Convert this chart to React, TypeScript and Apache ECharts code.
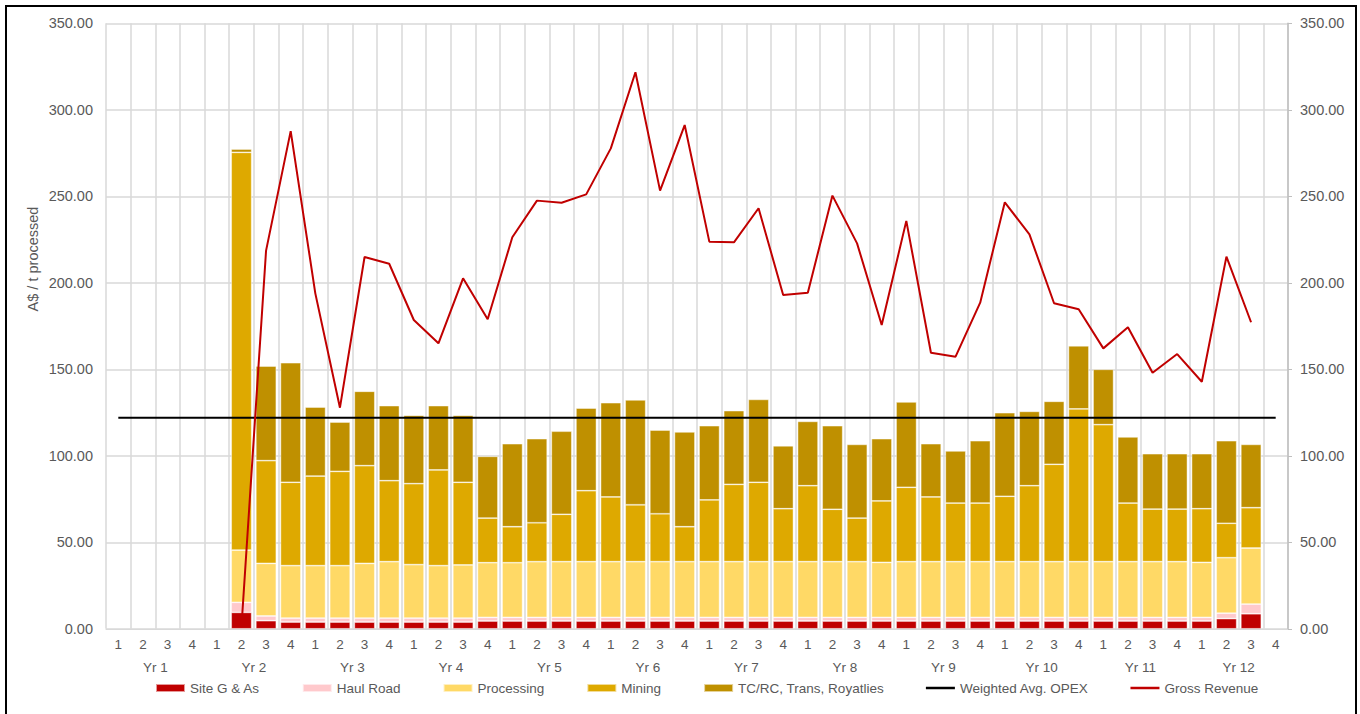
import React, { useEffect, useRef } from "react";
import * as echarts from "echarts";

const quarterLabels = [
  "1", "2", "3", "4", "1", "2", "3", "4", "1", "2", "3", "4",
  "1", "2", "3", "4", "1", "2", "3", "4", "1", "2", "3", "4",
  "1", "2", "3", "4", "1", "2", "3", "4", "1", "2", "3", "4",
  "1", "2", "3", "4", "1", "2", "3", "4", "1", "2", "3", "4",
];
const yearLabels = ["Yr 1", "Yr 2", "Yr 3", "Yr 4", "Yr 5", "Yr 6", "Yr 7", "Yr 8", "Yr 9", "Yr 10", "Yr 11", "Yr 12"];

const N = null;
const siteGA = [
  N, N, N, N, N, 9.5, 4.7, 3.9, 3.9, 3.9, 3.9, 3.9,
  3.9, 3.9, 3.9, 4.5, 4.5, 4.5, 4.5, 4.5, 4.5, 4.5, 4.5, 4.5,
  4.5, 4.5, 4.5, 4.5, 4.5, 4.5, 4.5, 4.5, 4.5, 4.5, 4.5, 4.5,
  4.5, 4.5, 4.5, 4.5, 4.5, 4.5, 4.5, 4.5, 4.5, 5.9, 8.7, N,
];
const haulRoad = [
  N, N, N, N, N, 5.8, 2.7, 2.3, 2.3, 2.3, 2.3, 2.3,
  2.3, 2.3, 2.3, 2.1, 2.1, 2.1, 2.1, 2.1, 2.1, 2.1, 2.1, 2.1,
  2.1, 2.1, 2.1, 2.1, 2.1, 2.1, 2.1, 2.1, 2.1, 2.1, 2.1, 2.1,
  2.1, 2.1, 2.1, 2.1, 2.1, 2.1, 2.1, 2.1, 2.1, 3.1, 5.6, N,
];
const processing = [
  N, N, N, N, N, 30.2, 30.4, 30.3, 30.3, 30.3, 31.6, 32.6,
  30.9, 30.3, 30.7, 31.6, 31.6, 32.2, 32.2, 32.2, 32.2, 32.2, 32.2, 32.2,
  32.2, 32.2, 32.2, 32.2, 32.2, 32.2, 32.2, 31.8, 32.2, 32.2, 32.2, 32.2,
  32.2, 32.2, 32.2, 32.2, 32.2, 32.2, 32.2, 32.2, 31.8, 32.1, 32.4, N,
];
const mining = [
  N, N, N, N, N, 229.9, 59.4, 48.2, 51.8, 54.5, 56.5, 46.8,
  46.8, 55.3, 47.8, 25.8, 20.8, 22.5, 27.4, 41.0, 37.4, 32.9, 27.7, 20.2,
  35.7, 44.7, 45.9, 30.6, 43.9, 30.3, 25.2, 35.5, 43.0, 37.4, 33.9, 33.9,
  37.8, 43.9, 56.3, 88.3, 79.2, 33.9, 30.4, 30.4, 31.0, 19.9, 23.3, N,
];
const tcrcTransRoyalties = [
  N, N, N, N, N, 1.9, 54.7, 69.1, 39.9, 28.5, 43.0, 43.4,
  39.5, 37.2, 38.7, 35.7, 48.0, 48.6, 48.0, 47.8, 54.5, 60.6, 48.4, 54.8,
  42.9, 42.6, 47.9, 36.4, 37.2, 48.3, 42.6, 36.0, 49.3, 30.8, 30.1, 36.0,
  48.3, 43.0, 36.4, 36.5, 32.0, 38.2, 32.0, 32.0, 31.8, 47.7, 36.6, N,
];
const weightedAvgOpex = [
  122, 122, 122, 122, 122, 122, 122, 122, 122, 122, 122, 122,
  122, 122, 122, 122, 122, 122, 122, 122, 122, 122, 122, 122,
  122, 122, 122, 122, 122, 122, 122, 122, 122, 122, 122, 122,
  122, 122, 122, 122, 122, 122, 122, 122, 122, 122, 122, 122,
];
const grossRevenue = [
  N, N, N, N, N, 1, 218.6, 287.7, 193.9, 127.8, 214.9, 211.0,
  178.5, 165.0, 202.6, 178.9, 226.3, 247.5, 246.3, 251.1, 277.7, 321.7, 253.3, 291.2,
  223.8, 223.4, 243.1, 192.9, 194.3, 250.4, 222.8, 175.6, 235.8, 159.6, 157.3, 188.5,
  246.5, 228.0, 188.2, 184.7, 162.1, 174.3, 148.0, 158.8, 142.8, 215.1, 177.2, N,
];

const FONT = "'Liberation Sans', Arial, sans-serif";
const GREY = "#595959";
const LINE_ICON = "path://M0,0L29,0L29,2.5L0,2.5Z";

export default function App() {
  const ref = useRef<HTMLDivElement>(null);
  useEffect(() => {
    if (!ref.current) return;
    const chart = echarts.init(ref.current, undefined, { renderer: "svg" });
    const barSeries = (name: string, data: (number | null)[], color: string) => ({
      name,
      type: "bar",
      stack: "cost",
      data,
      barWidth: 20.5,
      itemStyle: { color, borderColor: "rgba(255,255,255,0.6)", borderWidth: 0.75 },
    });
    chart.setOption({
      animation: false,
      backgroundColor: "#ffffff",
      textStyle: { fontFamily: FONT },
      grid: { left: 106, right: 72, top: 23.3, bottom: 85.2, containLabel: false },
      legend: {
        left: 150,
        top: 676,
        itemGap: 42,
        itemWidth: 29,
        itemHeight: 8,
        textStyle: { color: GREY, fontSize: 13.5, fontFamily: FONT },
        data: [
          { name: "Site G & As", icon: "rect" },
          { name: "Haul Road", icon: "rect" },
          { name: "Processing", icon: "rect" },
          { name: "Mining", icon: "rect" },
          { name: "TC/RC, Trans, Royatlies", icon: "rect" },
          { name: "Weighted Avg. OPEX", icon: LINE_ICON },
          { name: "Gross Revenue", icon: LINE_ICON },
        ],
      },
      xAxis: [
        {
          type: "category",
          data: quarterLabels,
          boundaryGap: true,
          axisLine: { show: true, lineStyle: { color: "#D9D9D9", width: 1 } },
          axisTick: { show: false },
          axisLabel: { color: GREY, fontSize: 13.5, fontFamily: FONT, interval: 0, margin: 9 },
          splitLine: { show: true, interval: 0, lineStyle: { color: "#D9D9D9", width: 1.5 } },
        },
        {
          type: "category",
          data: yearLabels,
          position: "bottom",
          offset: 23,
          boundaryGap: true,
          axisLine: { show: false },
          axisTick: { show: false },
          axisLabel: { color: GREY, fontSize: 13.5, fontFamily: FONT, interval: 0, margin: 9 },
          splitLine: { show: false },
        },
      ],
      yAxis: [
        {
          type: "value",
          min: 0,
          max: 350,
          interval: 50,
          axisLine: { show: false },
          axisTick: { show: false },
          axisLabel: {
            color: GREY,
            fontSize: 14.5,
            fontFamily: FONT,
            margin: 13,
            formatter: (v: number) => v.toFixed(2),
          },
          splitLine: { show: true, lineStyle: { color: "#D9D9D9", width: 1.5 } },
        },
        {
          type: "value",
          min: 0,
          max: 350,
          interval: 50,
          position: "right",
          axisLine: { show: true, lineStyle: { color: "#BFBFBF", width: 1.5 } },
          axisTick: { show: true, length: 4, lineStyle: { color: "#BFBFBF" } },
          axisLabel: {
            color: GREY,
            fontSize: 14.5,
            fontFamily: FONT,
            margin: 12,
            formatter: (v: number) => v.toFixed(2),
          },
          splitLine: { show: false },
        },
      ],
      series: [
        barSeries("Site G & As", siteGA, "#C00000"),
        barSeries("Haul Road", haulRoad, "#FFC9CC"),
        barSeries("Processing", processing, "#FFD966"),
        barSeries("Mining", mining, "#DEA900"),
        barSeries("TC/RC, Trans, Royatlies", tcrcTransRoyalties, "#BF9000"),
        {
          name: "Weighted Avg. OPEX",
          type: "line",
          data: weightedAvgOpex,
          symbol: "none",
          lineStyle: { color: "#000000", width: 2 },
          itemStyle: { color: "#000000" },
          z: 5,
        },
        {
          name: "Gross Revenue",
          type: "line",
          data: grossRevenue,
          symbol: "none",
          connectNulls: false,
          lineStyle: { color: "#C00000", width: 2 },
          itemStyle: { color: "#C00000" },
          z: 6,
        },
      ],
      graphic: [
        {
          type: "text",
          x: 33,
          y: 259,
          rotation: Math.PI / 2,
          style: {
            text: "A$ / t processed",
            fill: GREY,
            fontSize: 14.5,
            fontFamily: FONT,
            align: "center",
            verticalAlign: "middle",
          },
        },
        {
          type: "rect",
          shape: { x: 6, y: 6, width: 1350, height: 730 },
          style: { fill: "none", stroke: "#000000", lineWidth: 2 },
          silent: true,
          z: 100,
        },
      ],
    });
    return () => chart.dispose();
  }, []);
  return (
    <div
      ref={ref}
      style={{ position: "absolute", left: 0, top: 0, width: 1360, height: 714 }}
    />
  );
}
